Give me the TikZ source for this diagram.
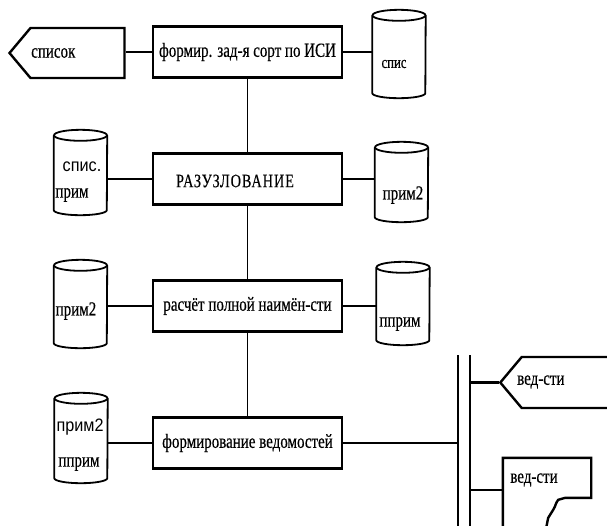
\documentclass[tikz,border=0pt]{standalone}
\usepackage{fontspec}
\setmainfont{Liberation Serif}
\newfontfamily\diafont[FakeStretch=0.75, FakeBold=0.4]{Liberation Serif}
\newfontfamily\diasans[FakeStretch=0.9]{Liberation Sans}
\usetikzlibrary{shapes.symbols, calc}

\begin{document}
\begin{tikzpicture}[x=1pt, y=-1pt,
  procbox/.style={draw, line width=2.6pt, minimum width=189pt, minimum height=51pt, inner sep=0pt, font=\diafont\fontsize{20}{20}\selectfont},
  store/.style={minimum width=53pt, inner sep=0pt},
  screen/.style={signal, signal to=west, signal pointer angle=100, draw, line width=2.4pt, inner sep=0pt},
  link/.style={line width=2.6pt},
  thinlink/.style={line width=0.9pt},
  lbl/.style={font=\diafont\fontsize{20}{20}\selectfont, inner sep=0pt},
  sanslbl/.style={font=\diasans\fontsize{18}{18}\selectfont, inner sep=0pt}]
\useasboundingbox (0,0) rectangle (607,525);
\clip (0,0) rectangle (607,525);
% processes
\node[procbox] (zad) at (247.5,52) {формир. зад-я сорт по ИСИ};
\node[procbox] (razuz) at (247.5,179) {};
\node[font=\diafont\fontsize{19}{19}\selectfont\addfontfeature{LetterSpace=5}, inner sep=0pt] at (235,181) {РАЗУЗЛОВАНИЕ};
\node[procbox] (rasch) at (247.5,306) {расчёт полной наимён-сти};
\node[procbox] (ved) at (247.5,443) {формирование ведомостей};
% stores
\node[store, minimum height=88pt] (spis) at (399,54) {};
\node[store, minimum height=85pt] (sprim) at (80.5,172.5) {};
\node[store, minimum height=80pt] (prim2a) at (401.5,182) {};
\node[store, minimum height=88pt] (prim2b) at (80.5,304) {};
\node[store, minimum height=83pt] (pprima) at (403,303.5) {};
\node[store, minimum height=90pt] (pprimb) at (81,438) {};
\foreach \c in {spis,sprim,prim2a,prim2b,pprima,pprimb} {
  \draw[line width=1.8pt] ($(\c.north)+(0,5.5)$) ellipse [x radius=26.5pt, y radius=5.5pt];
  \draw[line width=1.8pt] ($(\c.north west)+(0,5.5)$) -- ($(\c.south west)+(0,-5)$)
    arc [start angle=180, end angle=360, x radius=26.5pt, y radius=5pt] -- ($(\c.north east)+(0,5.5)$);
}
\node[lbl, font=\diafont\fontsize{17}{17}\selectfont] at (394,64) {спис};
\node[sanslbl] at (82,167) {спис.};
\node[lbl] at (72,195) {прим};
\node[lbl] at (403,195) {прим2};
\node[lbl] at (76,311) {прим2};
\node[lbl] at (400,324) {пприм};
\node[sanslbl] at (80,427) {прим2};
\node[lbl] at (79,464) {пприм};
% screens and document
\node[screen, minimum width=115pt, minimum height=50pt] (spisok) at (77.5,53) {};
\node[lbl, anchor=west] at (31,53) {список};
\node[screen, minimum width=150pt, minimum height=51pt] (vedscr) at (586,382.5) {};
\node[lbl, anchor=west] at (517,382) {вед-сти};
\node[minimum width=88pt, minimum height=64pt, inner sep=0pt] (veddoc) at (547,490) {};
\node[lbl] at (534,480) {вед-сти};
\draw[line width=2.4pt] ($(veddoc.north west)+(0,70)$) -- (veddoc.north west) -- (veddoc.north east)
  -- ++(0,40) -- ++(-26,0) -- ++(-7,2) .. controls +(-3,4) and +(3,-5) .. ++(-5,10) -- ++(-5,8) -- ++(-2,10);
% connectors
\draw[link] (zad.west) -- (zad.west -| spisok.east);
\draw[link] (zad.east) -- (zad.east -| spis.west);
\draw[thinlink] (zad.south) -- (razuz.north);
\draw[link] (razuz.west) -- (razuz.west -| sprim.east);
\draw[link] (razuz.east) -- (razuz.east -| prim2a.west);
\draw[thinlink] (razuz.south) -- (rasch.north);
\draw[link] (rasch.west) -- (rasch.west -| prim2b.east);
\draw[link] (rasch.east) -- (rasch.east -| pprima.west);
\draw[thinlink] (rasch.south) -- (ved.north);
\draw[link] (ved.west) -- (ved.west -| pprimb.east);
\coordinate (busL) at (458,355);
\coordinate (busR) at (470,355);
\draw[link] (busL) -- ++(0,200);
\draw[link] (busR) -- ++(0,200);
\draw[link] (ved.east) -- (ved.east -| busL);
\draw[link] (busR |- vedscr.west) -- (vedscr.west);
\draw[link] (busR |- veddoc.west) -- (veddoc.west);
\end{tikzpicture}
\end{document}
